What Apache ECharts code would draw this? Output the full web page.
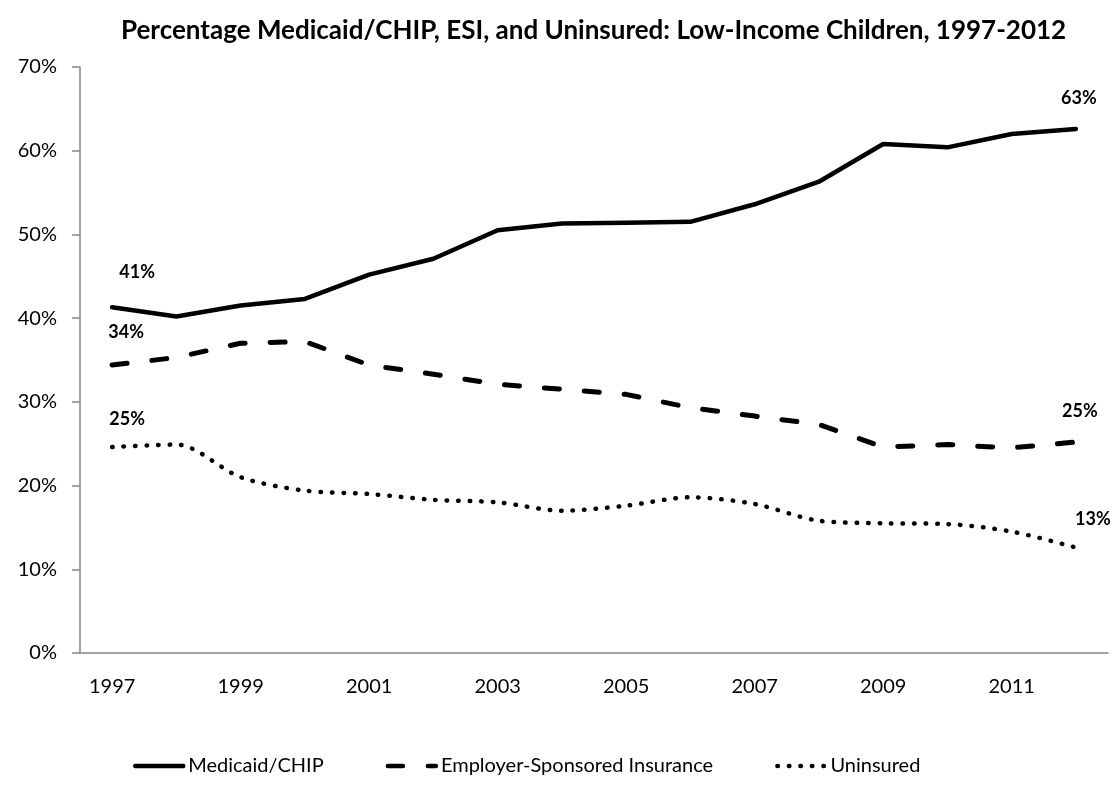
<!DOCTYPE html>
<html>
<head>
<meta charset="utf-8">
<script src="https://cdn.jsdelivr.net/npm/echarts@6/dist/echarts.min.js"></script>
<style>
html,body{margin:0;padding:0;background:#fff;}
#chart{width:1115px;height:785px;}
</style>
</head>
<body>
<div id="chart"></div>
<script>
const years = ['1997','1998','1999','2000','2001','2002','2003','2004','2005','2006','2007','2008','2009','2010','2011','2012'];
const medicaid = [41.3, 40.2, 41.5, 42.3, 45.2, 47.1, 50.5, 51.3, 51.4, 51.5, 53.6, 56.3, 60.8, 60.4, 62.0, 62.6];
const esi      = [34.4, 35.3, 37.0, 37.2, 34.4, 33.3, 32.1, 31.5, 30.9, 29.3, 28.3, 27.3, 24.6, 24.9, 24.5, 25.2];
const unins    = [24.6, 24.9, 21.0, 19.4, 19.0, 18.3, 18.0, 17.0, 17.6, 18.6, 17.8, 15.8, 15.5, 15.4, 14.5, 12.6];
const yTicks = [0, 10, 20, 30, 40, 50, 60, 70];

const FONT = 'Lato, "Open Sans", sans-serif';
const labelStyle = {fontFamily: FONT, fontWeight: 'bold', fontSize: 18, color: '#000'};

function withLabels(arr, firstOff, lastOff) {
  return arr.map((v, i) => {
    if (i === 0 || i === arr.length - 1) {
      return {value: v, label: Object.assign({show: true, position: 'top', distance: 5,
        offset: i === 0 ? firstOff : lastOff,
        formatter: p => Math.round(p.value) + '%'}, labelStyle)};
    }
    return v;
  });
}

const chart = echarts.init(document.getElementById('chart'), null, {renderer: 'canvas'});
chart.setOption({
  backgroundColor: '#fff',
  animation: false,
  title: {
    text: 'Percentage Medicaid/CHIP, ESI, and Uninsured: Low-Income Children, 1997-2012',
    left: 116, top: 13,
    textStyle: {fontFamily: FONT, fontWeight: 'bold', fontSize: 26, color: '#000'}
  },
  legend: {
    bottom: 4, left: 128,
    itemWidth: 48, itemHeight: 10, itemGap: 62,
    itemStyle: {opacity: 0},
    lineStyle: {width: 4.5},
    textStyle: {fontFamily: FONT, fontSize: 20, color: '#000'},
    data: ['Medicaid/CHIP', 'Employer-Sponsored Insurance', 'Uninsured']
  },
  grid: {left: 80, right: 7, top: 67, bottom: 132},
  xAxis: {
    type: 'category', data: years, boundaryGap: true,
    axisLine: {lineStyle: {color: '#868686', width: 1.5}},
    axisTick: {interval: 1, length: 7, lineStyle: {color: '#868686', width: 1.5}},
    axisLabel: {interval: 1, margin: 24, fontFamily: FONT, fontSize: 20, color: '#000'}
  },
  yAxis: {
    type: 'value', min: yTicks[0], max: yTicks[yTicks.length - 1], interval: 10,
    axisLine: {show: true, lineStyle: {color: '#868686', width: 1.5}},
    axisTick: {show: true, length: 8, lineStyle: {color: '#868686', width: 1.5}},
    splitLine: {show: false},
    axisLabel: {margin: 23, fontFamily: FONT, fontSize: 20, color: '#000', formatter: v => v + '%'}
  },
  series: [
    {
      name: 'Medicaid/CHIP', type: 'line', symbol: 'circle', symbolSize: 0, showSymbol: true,
      lineStyle: {color: '#000', width: 4.5, cap: 'round', join: 'round'},
      itemStyle: {color: '#000'},
      data: withLabels(medicaid, [25, -21], [3, -17])
    },
    {
      name: 'Employer-Sponsored Insurance', type: 'line', symbol: 'circle', symbolSize: 0, showSymbol: true,
      lineStyle: {color: '#000', width: 5, type: [15, 25], cap: 'round', join: 'round'},
      itemStyle: {color: '#000'},
      data: withLabels(esi, [14, -19], [4, -17])
    },
    {
      name: 'Uninsured', type: 'line', symbol: 'circle', symbolSize: 0, showSymbol: true, smooth: 0.3,
      lineStyle: {color: '#000', width: 4.5, type: [0.5, 11], cap: 'round', join: 'round'},
      itemStyle: {color: '#000'},
      data: withLabels(unins, [15, -14], [17, -14])
    }
  ]
});
</script>
</body>
</html>
